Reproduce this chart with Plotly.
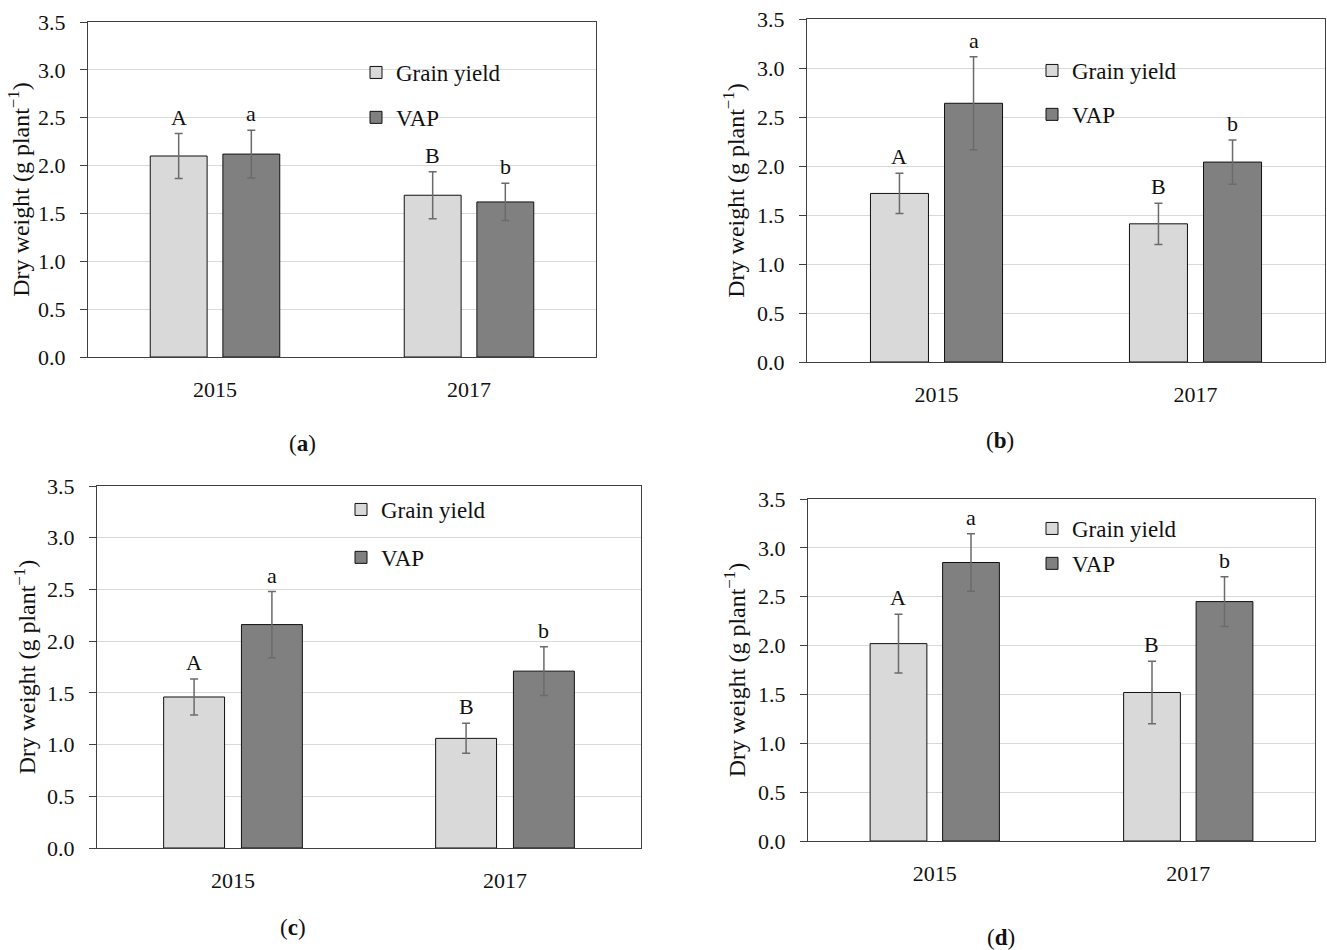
import plotly.graph_objects as go

W, H = 1327, 950

years = ["2015", "2017"]
series_names = ["Grain yield", "VAP"]

grain_a = [2.10, 1.69]
grain_err_a = [0.235, 0.245]
vap_a = [2.12, 1.62]
vap_err_a = [0.25, 0.195]

grain_b = [1.72, 1.41]
grain_err_b = [0.205, 0.21]
vap_b = [2.64, 2.04]
vap_err_b = [0.475, 0.225]

grain_c = [1.46, 1.06]
grain_err_c = [0.175, 0.145]
vap_c = [2.16, 1.71]
vap_err_c = [0.32, 0.235]

grain_d = [2.02, 1.52]
grain_err_d = [0.30, 0.32]
vap_d = [2.85, 2.45]
vap_err_d = [0.295, 0.255]

grain_letters = ["A", "B"]
vap_letters = ["a", "b"]
panel_labels = ["a", "b", "c", "d"]
y_ticks = [0.0, 0.5, 1.0, 1.5, 2.0, 2.5, 3.0, 3.5]

# category positions on the x axis
x_pos = list(range(len(years)))

# layout (pixels): x0, x1, y0(top), y1(bottom)
boxes = [(88, 596, 22, 357), (807, 1325, 19, 362), (97, 641, 486, 848), (808, 1315, 499, 841)]
legend_pos = [(356, 51, 12), (1032, 49, 11), (341, 488, 15), (1032, 507, 2)]
title_standoff = [1, 5, 4, 5]
label_pos = [(302, 443), (1000, 440), (293, 927), (1001, 937)]

data = [
    (grain_a, grain_err_a, vap_a, vap_err_a),
    (grain_b, grain_err_b, vap_b, vap_err_b),
    (grain_c, grain_err_c, vap_c, vap_err_c),
    (grain_d, grain_err_d, vap_d, vap_err_d),
]

FONT = "Liberation Serif"
AXC = "#404040"
BARGAP = 0.428
GROUPGAP = 0.217

fig = go.Figure()
layout = dict(
    width=W, height=H, margin=dict(l=0, r=0, t=0, b=0, autoexpand=False),
    paper_bgcolor="white", plot_bgcolor="white",
    font=dict(family=FONT, size=22, color="#111111"),
    bargap=BARGAP, bargroupgap=GROUPGAP, barmode="group",
    annotations=[],
)

for i, (g, ge, v, ve) in enumerate(data):
    n = "" if i == 0 else str(i + 1)
    lg = "legend" if i == 0 else "legend" + str(i + 1)
    x0, x1, y0, y1 = boxes[i]
    fig.add_trace(go.Bar(
        x=x_pos, y=g, name=series_names[0], xaxis="x" + n, yaxis="y" + n,
        marker=dict(color="#d9d9d9", line=dict(color="#111111", width=1)),
        error_y=dict(type="data", array=ge, color="#6b6b6b", thickness=1.5, width=4),
        legend=lg, legendgroup="g" + n, showlegend=True, hoverinfo="skip",
    ))
    fig.add_trace(go.Bar(
        x=x_pos, y=v, name=series_names[1], xaxis="x" + n, yaxis="y" + n,
        marker=dict(color="#808080", line=dict(color="#111111", width=1)),
        error_y=dict(type="data", array=ve, color="#6b6b6b", thickness=1.5, width=4),
        legend=lg, legendgroup="v" + n, showlegend=True, hoverinfo="skip",
    ))
    layout["xaxis" + n] = dict(
        domain=[x0 / W, x1 / W], anchor="y" + n, type="linear",
        range=[-0.5, len(years) - 0.5], tickvals=x_pos, ticktext=years,
        showline=True, mirror=True, linecolor=AXC, linewidth=1.3,
        ticks="", showgrid=False, zeroline=False, tickfont=dict(size=22, family=FONT),
        ticklabelstandoff=12, fixedrange=True, automargin=False,
    )
    layout["yaxis" + n] = dict(
        domain=[1 - y1 / H, 1 - y0 / H], anchor="x" + n,
        range=[0, 3.5], tickvals=y_ticks, tickformat=".1f",
        showline=True, mirror=True, linecolor=AXC, linewidth=1.3,
        ticks="outside", ticklen=7, tickcolor=AXC, tickwidth=1.3,
        showgrid=True, gridcolor="#d9d9d9", gridwidth=1, zeroline=False,
        tickfont=dict(size=22, family=FONT), ticklabelstandoff=10,
        title=dict(text="Dry weight (g plant<sup>−1</sup>)", font=dict(size=24, family=FONT),
                   standoff=title_standoff[i]),
        fixedrange=True, automargin=False,
    )
    lx, ly, gap = legend_pos[i]
    layout[lg] = dict(
        x=lx / W, y=1 - ly / H, xanchor="left", yanchor="top",
        bgcolor="rgba(0,0,0,0)", font=dict(size=23, family=FONT),
        tracegroupgap=gap, orientation="v", traceorder="grouped",
    )
    # significance letters above the error bars
    cat_px = (x1 - x0) / len(years)
    slot = cat_px * (1 - BARGAP) / 2
    for j in x_pos:
        for vals, errs, letters, sgn in ((g, ge, grain_letters, -1), (v, ve, vap_letters, 1)):
            layout["annotations"].append(dict(
                x=j, y=vals[j] + errs[j], xref="x" + n, yref="y" + n,
                text=letters[j], showarrow=False, xshift=sgn * slot / 2,
                yanchor="bottom", yshift=2, font=dict(size=22, family=FONT),
            ))
    px, py = label_pos[i]
    layout["annotations"].append(dict(
        x=px / W, y=1 - py / H, xref="paper", yref="paper",
        text="(<b>" + panel_labels[i] + "</b>)", showarrow=False,
        xanchor="center", yanchor="middle", font=dict(size=23, family=FONT),
    ))

fig.update_layout(**layout)
fig.write_html("out.html", post_script="document.body.style.margin='0';", config={"displayModeBar": False})
